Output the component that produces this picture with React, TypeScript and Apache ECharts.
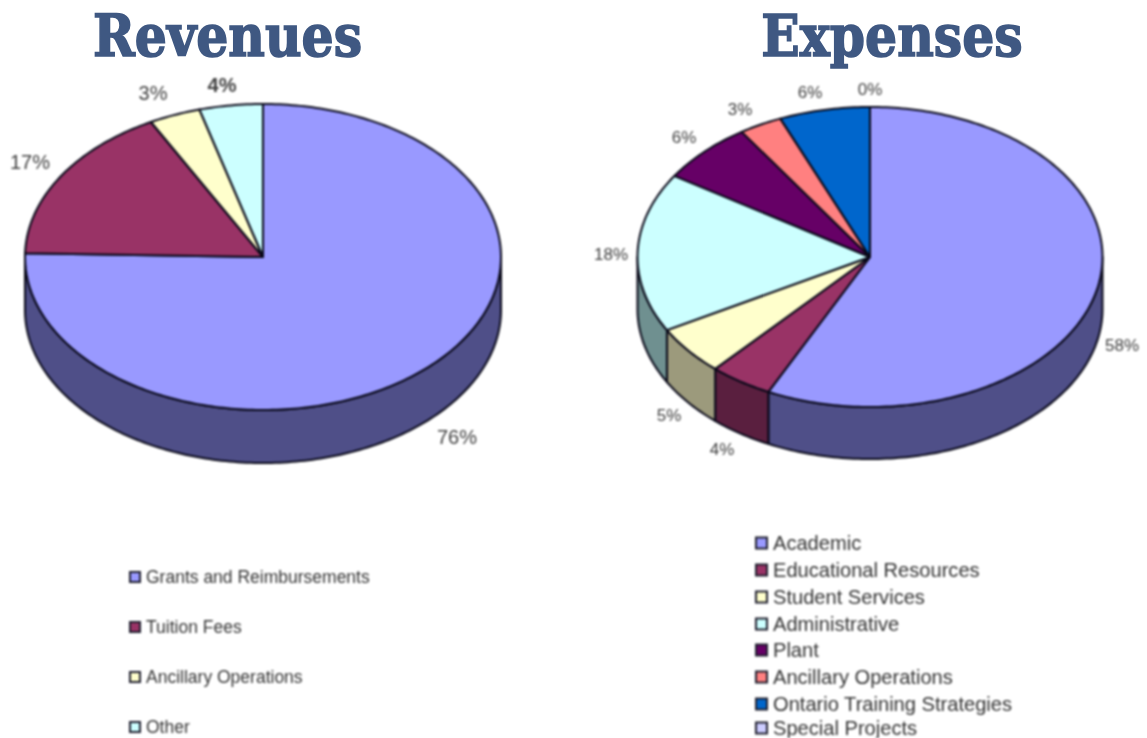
import React, { useEffect, useRef } from "react";
import * as echarts from "echarts";

const revenueCategories = ["Grants and Reimbursements", "Tuition Fees", "Ancillary Operations", "Other"];
const revenueValues = [75.4, 16.8, 3.5, 4.3];
const revenueLabels = ["76%", "17%", "3%", "4%"];
const revenueTop = ["#9999ff", "#993366", "#ffffcc", "#ccffff"];
const revenueSide = ["#4f4f88", "#5a1f3f", "#9c9a7c", "#6f9090"];

const expenseCategories = ["Academic", "Educational Resources", "Student Services", "Administrative", "Plant", "Ancillary Operations", "Ontario Training Strategies", "Special Projects"];
const expenseValues = [57.2, 4.4, 5.3, 17.2, 6.6, 3.0, 6.3, 0];
const expenseLabels = ["58%", "4%", "5%", "18%", "6%", "3%", "6%", "0%"];
const expenseTop = ["#9999ff", "#993366", "#ffffcc", "#ccffff", "#660066", "#ff8080", "#0066cc", "#ccccff"];
const expenseSide = ["#4f4f88", "#5a1f3f", "#9c9a7c", "#6f9090", "#3a003a", "#8f4848", "#003a75", "#77779a"];

const titles = ["Revenues", "Expenses"];

const revenueLabelAt = [[457, 437], [30, 162], [153, 93], [222, 85]];
const expenseLabelAt = [[1122, 345], [722, 449], [669, 415], [611, 254], [684, 137], [740, 109], [810, 92], [870, 89]];

const EDGE = "#080818";

type Geo = { cx: number; cy: number; rx: number; ry: number; depth: number };

function point(g: Geo, deg: number, dy = 0): number[] {
  const a = (deg * Math.PI) / 180;
  return [g.cx + g.rx * Math.sin(a), g.cy - g.ry * Math.cos(a) + dy];
}

function arc(g: Geo, from: number, to: number, dy = 0): number[][] {
  const pts: number[][] = [];
  const n = Math.max(2, Math.ceil(to - from));
  for (let i = 0; i <= n; i++) pts.push(point(g, from + ((to - from) * i) / n, dy));
  return pts;
}

function spans(values: number[]): number[][] {
  const total = values.reduce((s, v) => s + v, 0);
  let c = 0;
  return values.map((v, i) => {
    const start = (c / total) * 360;
    c += v;
    return [start, (c / total) * 360, i];
  });
}

function pieSeries(g: Geo, values: number[], top: string[], side: string[]): any[] {
  const data = spans(values);
  const line = { stroke: EDGE, lineWidth: 2, lineJoin: "round" };
  return [
    {
      type: "custom",
      coordinateSystem: "none",
      silent: true,
      z: 2,
      data,
      renderItem: (_p: any, api: any) => {
        const s = Math.max(api.value(0), 90);
        const e = Math.min(api.value(1), 270);
        if (e <= s) return null;
        const pts = [...arc(g, s, e), ...arc(g, s, e, g.depth).reverse()];
        return { type: "polygon", shape: { points: pts }, style: { fill: side[api.value(2)], ...line } };
      },
    },
    {
      type: "custom",
      coordinateSystem: "none",
      silent: true,
      z: 3,
      data,
      renderItem: (_p: any, api: any) => {
        const s = api.value(0);
        const e = api.value(1);
        if (e <= s) return null;
        const pts = [[g.cx, g.cy], ...arc(g, s, e)];
        return { type: "polygon", shape: { points: pts }, style: { fill: top[api.value(2)], ...line } };
      },
    },
  ];
}

function pctTexts(labels: string[], at: number[][], size: number, bold: number[]): any[] {
  return labels.map((text, i) => ({
    type: "text",
    x: at[i][0],
    y: at[i][1],
    style: {
      text,
      fill: "#404040",
      font: `${bold.includes(i) ? "bold " : ""}${size}px "Liberation Sans", Arial, sans-serif`,
      align: "center",
      verticalAlign: "middle",
    },
  }));
}

function legendItems(names: string[], colors: string[], x: number, ys: number[], size: number, font: number, textX: number): any[] {
  const out: any[] = [];
  names.forEach((name, i) => {
    out.push({
      type: "rect",
      shape: { x, y: ys[i] - size / 2, width: size, height: size },
      style: { fill: colors[i], stroke: "#20202f", lineWidth: 2 },
    });
    out.push({
      type: "text",
      x: textX,
      y: ys[i],
      style: {
        text: name,
        fill: "#333333",
        font: `${font}px "Liberation Sans", Arial, sans-serif`,
        align: "left",
        verticalAlign: "middle",
      },
    });
  });
  return out;
}

const revenueLegendY = [577, 627, 677, 727];
const expenseLegendY = [543, 570, 597, 624, 650, 677, 704, 728];

export default function App() {
  const pieRef = useRef<HTMLDivElement>(null);
  const titleRef = useRef<HTMLDivElement>(null);

  useEffect(() => {
    const pies = echarts.init(pieRef.current!, undefined, { renderer: "svg" });
    const head = echarts.init(titleRef.current!, undefined, { renderer: "svg" });
    const revGeo: Geo = { cx: 263, cy: 257, rx: 238, ry: 153, depth: 53 };
    const expGeo: Geo = { cx: 870, cy: 257, rx: 232.5, ry: 150, depth: 52 };
    pies.setOption({
      animation: false,
      backgroundColor: "#ffffff",
      series: [
        ...pieSeries(revGeo, revenueValues, revenueTop, revenueSide),
        ...pieSeries(expGeo, expenseValues, expenseTop, expenseSide),
      ],
      graphic: {
        elements: [
          ...pctTexts(revenueLabels, revenueLabelAt, 20, [3]),
          ...pctTexts(expenseLabels, expenseLabelAt, 17, []),
          ...legendItems(revenueCategories, revenueTop, 130, revenueLegendY, 10, 17.5, 146),
          ...legendItems(expenseCategories, expenseTop, 756, expenseLegendY, 11, 20.1, 773),
        ],
      },
    });
    head.setOption({
      animation: false,
      graphic: {
        elements: titles.map((text, i) => ({
          type: "text",
          x: i === 0 ? 227.5 : 892,
          y: 36,
          scaleX: 0.885,
          style: {
            text,
            fill: "#3f5882",
            stroke: "#3f5882",
            lineWidth: 1.6,
            font: 'bold 57px "DejaVu Serif", serif',
            align: "center",
            verticalAlign: "middle",
          },
        })),
      },
    });
    return () => {
      pies.dispose();
      head.dispose();
    };
  }, []);

  const layer: React.CSSProperties = { position: "fixed", left: 0, top: 0, width: 1147, height: 738 };
  return (
    <>
      <div ref={pieRef} style={{ ...layer, filter: "blur(0.8px)" }} />
      <div ref={titleRef} style={layer} />
    </>
  );
}
